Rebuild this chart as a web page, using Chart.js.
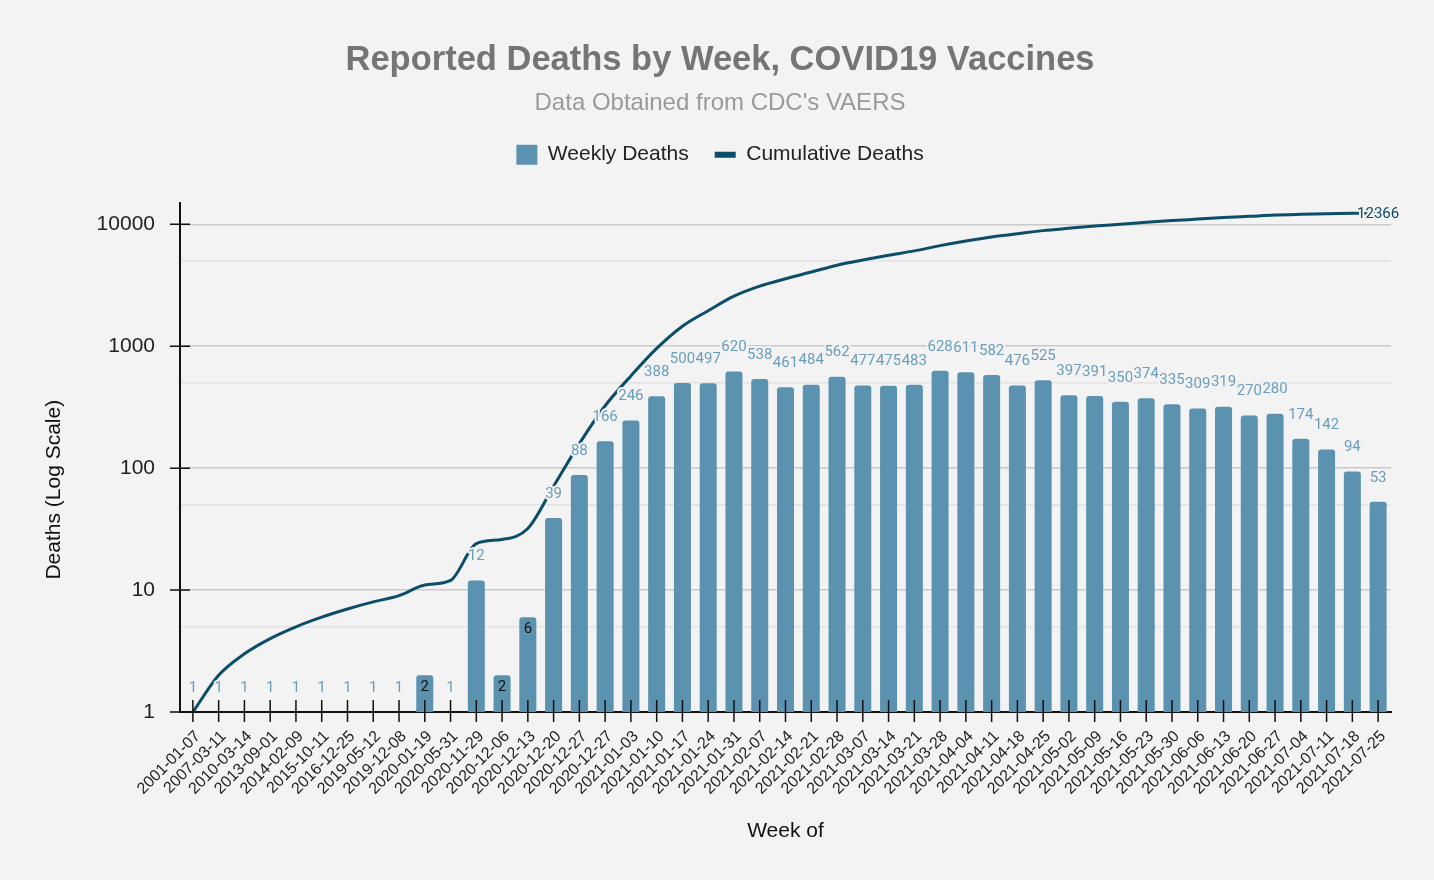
<!DOCTYPE html>
<html>
<head>
<meta charset="utf-8">
<script src="https://cdn.jsdelivr.net/npm/chart.js@4"></script>
<style>
  html, body { margin: 0; padding: 0; background: #f3f3f3; }
</style>
</head>
<body>
<canvas id="chart" width="1434" height="880"></canvas>
<script>
const weeks = [
  "2001-01-07", "2007-03-11", "2010-03-14", "2013-09-01", "2014-02-09", "2015-10-11",
  "2016-12-25", "2019-05-12", "2019-12-08", "2020-01-19", "2020-05-31", "2020-11-29",
  "2020-12-06", "2020-12-13", "2020-12-20", "2020-12-27", "2020-12-27", "2021-01-03",
  "2021-01-10", "2021-01-17", "2021-01-24", "2021-01-31", "2021-02-07", "2021-02-14",
  "2021-02-21", "2021-02-28", "2021-03-07", "2021-03-14", "2021-03-21", "2021-03-28",
  "2021-04-04", "2021-04-11", "2021-04-18", "2021-04-25", "2021-05-02", "2021-05-09",
  "2021-05-16", "2021-05-23", "2021-05-30", "2021-06-06", "2021-06-13", "2021-06-20",
  "2021-06-27", "2021-07-04", "2021-07-11", "2021-07-18", "2021-07-25"
];

const weeklyDeaths = [
  1, 1, 1, 1, 1, 1, 1, 1, 1, 2, 1, 12, 2, 6, 39, 88, 166, 246, 388, 500, 497, 620, 538, 461,
  484, 562, 477, 475, 483, 628, 611, 582, 476, 525, 397, 391, 350, 374, 335, 309, 319, 270,
  280, 174, 142, 94, 53
];

const cumulativeDeaths = [
  1, 2, 3, 4, 5, 6, 7, 8, 9, 11, 12, 24, 26, 32, 71, 159, 325, 571, 959, 1459, 1956, 2576,
  3114, 3575, 4059, 4621, 5098, 5573, 6056, 6684, 7295, 7877, 8353, 8878, 9275, 9666, 10016,
  10390, 10725, 11034, 11353, 11623, 11903, 12077, 12219, 12313, 12366
];

const majorTicks = [1, 10, 100, 1000, 10000];
const minorTicks = [5, 50, 500, 5000];

const BG = "#f3f3f3";
const BAR = "#5b92b0";
const LINE = "#0c4d69";
const FONT = "'Liberation Sans', Arial";
const AREA_TOP = 204;
const AREA_BOTTOM = 712;
const AREA_LEFT = 180;
const AREA_RIGHT = 1391;
const PAD_LEFT = 49;
const PAD_BOTTOM = 20;

// draws the value labels above the bars and the last cumulative value
const valueLabels = {
  id: "valueLabels",
  afterDatasetsDraw(chart) {
    const ctx = chart.ctx;
    const bars = chart.getDatasetMeta(0).data;
    ctx.save();
    ctx.font = "15px Roboto";
    ctx.textAlign = "center";
    ctx.textBaseline = "middle";
    ctx.lineJoin = "round";
    ctx.strokeStyle = BG;
    ctx.lineWidth = 4;
    bars.forEach((bar, i) => {
      const v = weeklyDeaths[i];
      const inside = v > 1 && v < 10;
      const y = inside ? bar.y + 12 : bar.y - 24;
      if (!inside) {
        ctx.strokeText(String(v), bar.x, y);
      }
      ctx.fillStyle = inside ? "#111" : "#6a9dbb";
      ctx.fillText(String(v), bar.x, y);
    });
    const pts = chart.getDatasetMeta(1).data;
    const last = pts[pts.length - 1];
    const txt = String(cumulativeDeaths[cumulativeDeaths.length - 1]);
    ctx.strokeText(txt, last.x, last.y + 1);
    ctx.fillStyle = LINE;
    ctx.fillText(txt, last.x, last.y + 1);
    ctx.restore();
  }
};

// tick marks that cross the axis lines
const crossTicks = {
  id: "crossTicks",
  afterDraw(chart) {
    const ctx = chart.ctx;
    const x = chart.scales.x;
    const y = chart.scales.y;
    ctx.save();
    ctx.strokeStyle = "#111";
    ctx.lineWidth = 1.5;
    ctx.beginPath();
    for (let i = 0; i < weeks.length; i++) {
      const px = x.getPixelForTick(i);
      ctx.moveTo(px, y.bottom - 12);
      ctx.lineTo(px, y.bottom + 10);
    }
    majorTicks.forEach((v) => {
      const py = y.getPixelForValue(v);
      ctx.moveTo(x.left - 10, py);
      ctx.lineTo(x.left + 10, py);
    });
    ctx.stroke();
    ctx.restore();
  }
};

const ctx = document.getElementById("chart").getContext("2d");
const myChart = new Chart(ctx, {
  data: {
    labels: weeks,
    datasets: [
      {
        type: "bar",
        label: "Weekly Deaths",
        data: weeklyDeaths,
        xAxisID: "x",
        yAxisID: "y",
        backgroundColor: BAR,
        barPercentage: 0.66,
        categoryPercentage: 1,
        borderRadius: { topLeft: 3, topRight: 3 },
        borderSkipped: "start",
        order: 1
      },
      {
        type: "line",
        label: "Cumulative Deaths",
        data: cumulativeDeaths,
        xAxisID: "x",
        yAxisID: "y",
        borderColor: LINE,
        backgroundColor: LINE,
        borderWidth: 3,
        pointRadius: 0,
        cubicInterpolationMode: "monotone",
        order: 0
      }
    ]
  },
  options: {
    responsive: false,
    animation: false,
    layout: { padding: { left: PAD_LEFT, right: 1434 - AREA_RIGHT, top: 0, bottom: PAD_BOTTOM } },
    plugins: {
      title: {
        display: true,
        text: "Reported Deaths by Week, COVID19 Vaccines",
        color: "#757575",
        font: { family: FONT, size: 34.5, weight: "bold" },
        padding: { top: 40, bottom: 0 }
      },
      subtitle: {
        display: true,
        text: "Data Obtained from CDC's VAERS",
        color: "#9a9a9a",
        font: { family: FONT, size: 24 },
        padding: { top: 8, bottom: 0 }
      },
      legend: {
        display: true,
        labels: {
          color: "#222",
          font: { family: FONT, size: 21 },
          usePointStyle: true,
          boxHeight: 20,
          pointStyleWidth: 21,
          padding: 26,
          sort: (a, b) => a.datasetIndex - b.datasetIndex,
          generateLabels(chart) {
            return chart.data.datasets.map((ds, i) => ({
              text: ds.label,
              datasetIndex: i,
              fillStyle: ds.type === "bar" ? BAR : LINE,
              strokeStyle: ds.type === "bar" ? BAR : LINE,
              lineWidth: ds.type === "bar" ? 0 : 6,
              pointStyle: ds.type === "bar" ? "rect" : "line",
              fontColor: "#222",
              hidden: false
            }));
          }
        }
      },
      tooltip: { enabled: false }
    },
    scales: {
      x: {
        type: "category",
        offset: true,
        grid: { display: false, drawTicks: false },
        border: { display: true, color: "#111", width: 2 },
        ticks: {
          autoSkip: false,
          minRotation: 45,
          maxRotation: 45,
          padding: 15,
          labelOffset: 5,
          color: "#222",
          font: { family: FONT, size: 16 }
        },
        title: {
          display: true,
          text: "Week of",
          color: "#111",
          font: { family: FONT, size: 21 },
          padding: { top: 0, bottom: 16 }
        },
        afterFit(scale) {
          scale.height = 880 - AREA_BOTTOM - PAD_BOTTOM;
        }
      },
      // empty top axis, only keeps the space between legend and plot
      gap: {
        type: "category",
        position: "top",
        grid: { display: false, drawTicks: false },
        border: { display: false },
        ticks: { display: false },
        afterFit(scale) {
          scale.height = 28;
        }
      },
      y: {
        type: "logarithmic",
        min: 1,
        max: 14900,
        grid: {
          drawTicks: false,
          lineWidth: 1.5,
          color: (c) => (minorTicks.includes(c.tick && c.tick.value) ? "#e2e2e2" : "#c9c9c9")
        },
        border: { display: true, color: "#111", width: 2 },
        ticks: {
          padding: 25,
          color: "#222",
          font: { family: FONT, size: 21 },
          callback: (v) => (majorTicks.includes(v) ? String(v) : "")
        },
        afterBuildTicks(scale) {
          scale.ticks = majorTicks.concat(minorTicks).sort((a, b) => a - b).map((v) => ({ value: v }));
        },
        title: {
          display: true,
          text: "Deaths (Log Scale)" + "\u00a0".repeat(11),
          color: "#111",
          font: { family: FONT, size: 21 },
          padding: { top: -7, bottom: 0 }
        },
        afterFit(scale) {
          scale.width = AREA_LEFT - PAD_LEFT;
        }
      }
    }
  },
  plugins: [valueLabels, crossTicks]
});
</script>
</body>
</html>
